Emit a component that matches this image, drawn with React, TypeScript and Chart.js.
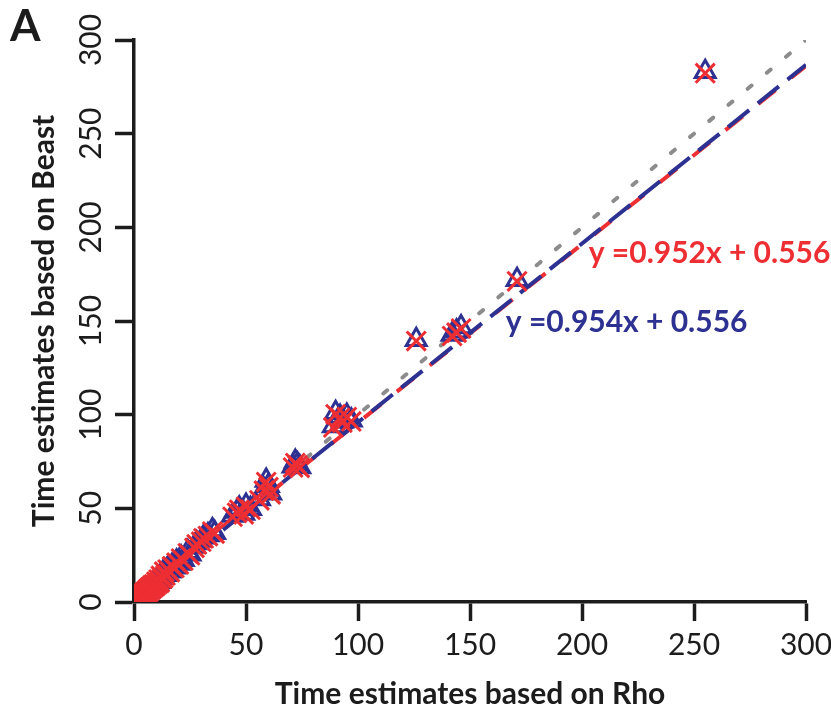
import React, { useEffect, useRef } from "react";
import { Chart, registerables } from "chart.js";

Chart.register(...registerables);

// ---- data ----
const rhoTimes = [
  0.8, 1.2, 1.5, 2, 2.2, 2.5, 3, 3.3, 3.5, 4, 4.2, 4.5, 5, 5.3, 5.5, 6, 6.2, 6.5, 7, 7.2,
  7.5, 8, 8.3, 8.5, 9, 9.5, 10, 10.5, 11, 11.5, 12, 12.5, 13, 13.5, 14, 15, 16, 17, 18, 19,
  20, 21, 22, 24, 25, 27, 28, 30, 31, 33, 35, 36, 44, 46, 47, 49, 50, 52, 56, 58,
  59, 60, 61, 71, 72, 73, 74, 89, 90, 92, 93, 95, 97, 126, 142, 144, 146, 171, 255,
];
const beastTriangle = [
  0.5, 1.4, 1.2, 2.5, 1.9, 1.8, 3.5, 3.0, 2.8, 4.2, 4.6, 3.6, 5.5, 5.9, 4.8, 6.3, 7.0, 5.7, 7.6, 8.1,
  6.8, 8.5, 9.2, 7.9, 9.8, 8.9, 11.2, 9.9, 12.5, 10.8, 14.5, 12.9, 13.2, 16.8, 14.6, 17.9, 16.4, 19.5, 18.6, 21.8,
  20.5, 23.9, 22.6, 26.8, 25.5, 29.6, 31.5, 32.8, 34.6, 35.8, 38.4, 37.0, 46.2, 48.3, 50.0, 47.2, 51.5, 49.8, 55.0, 60.0,
  64.8, 62.0, 58.0, 72.5, 75.0, 73.5, 72.0, 94.0, 101.0, 99.0, 96.5, 99.5, 97.0, 140.0, 142.8, 144.5, 146.8, 172.0, 283.0,
];
const beastCross = [
  0.3, 1.2, 1.0, 2.3, 1.7, 1.6, 3.2, 2.8, 2.6, 4.0, 4.4, 3.4, 5.2, 5.6, 4.6, 6.0, 6.7, 5.5, 7.3, 7.8,
  6.6, 8.2, 8.9, 7.7, 9.4, 8.6, 10.8, 9.6, 12.0, 10.5, 13.9, 12.5, 12.8, 16.2, 14.2, 17.3, 16.0, 19.0, 18.2, 21.0,
  20.1, 23.2, 22.1, 26.0, 25.0, 28.9, 30.8, 32.2, 34.0, 35.2, 37.6, 36.5, 45.5, 47.6, 49.2, 46.8, 50.8, 49.3, 54.3, 59.4,
  64.0, 61.3, 57.5, 71.8, 74.2, 72.9, 71.6, 93.2, 100.2, 98.3, 95.8, 98.7, 96.4, 139.3, 142.0, 143.8, 146.0, 171.2, 282.3,
];
const axisTicks = [0, 50, 100, 150, 200, 250, 300];
const fitSlopes = [0.952, 0.954]; // red, blue
const fitIntercepts = [0.556, 0.556];
const fitLabels = ["y =0.952x + 0.556", "y =0.954x + 0.556"];
const identityLine = [0, 300];

const RED = "#ED2E33";
const BLUE = "#2D3191";
const GRAY = "#8C8C8C";
const INK = "#1c1c1c";
const FONT = "Lato";

export default function App() {
  const ref = useRef<HTMLCanvasElement | null>(null);

  useEffect(() => {
    document.body.style.margin = "0";
    const canvas = ref.current;
    if (!canvas) return;

    const xMin = axisTicks[0];
    const xMax = axisTicks[axisTicks.length - 1];
    const fitLine = (i: number) => [
      { x: xMin, y: fitSlopes[i] * xMin + fitIntercepts[i] },
      { x: xMax, y: fitSlopes[i] * xMax + fitIntercepts[i] },
    ];

    const labelAnchors = [
      { x: 203, y: 186, color: RED },
      { x: 166, y: 149.5, color: BLUE },
    ];

    const overlay = {
      id: "overlay",
      afterDraw(chart: any) {
        const { ctx, scales } = chart;
        const xs = scales.x;
        const ys = scales.y;
        ctx.save();
        // rotated y tick labels
        ctx.fillStyle = INK;
        ctx.font = `30px ${FONT}`;
        ctx.textAlign = "center";
        ctx.textBaseline = "middle";
        for (const v of axisTicks) {
          const py = ys.getPixelForValue(v);
          ctx.save();
          ctx.translate(91, py);
          ctx.rotate(-Math.PI / 2);
          ctx.fillText(String(v), 0, 0);
          ctx.restore();
        }
        // panel letter
        ctx.font = `bold 44px ${FONT}`;
        ctx.textAlign = "left";
        ctx.textBaseline = "alphabetic";
        ctx.fillText("A", 10, 41);
        // equations
        ctx.font = `bold 30px ${FONT}`;
        ctx.textBaseline = "middle";
        labelAnchors.forEach((a, i) => {
          ctx.fillStyle = a.color;
          ctx.fillText(fitLabels[i], xs.getPixelForValue(a.x), ys.getPixelForValue(a.y));
        });
        ctx.restore();
      },
    };

    const chart = new Chart(canvas, {
      type: "scatter",
      data: {
        datasets: [
          {
            label: "cross",
            data: rhoTimes.map((x, i) => ({ x, y: beastCross[i] })),
            pointStyle: "crossRot",
            pointRadius: 13.5,
            borderColor: RED,
            backgroundColor: RED,
            pointBorderWidth: 3,
            order: 1,
          },
          {
            label: "triangle",
            data: rhoTimes.map((x, i) => ({ x, y: beastTriangle[i] })),
            pointStyle: "triangle",
            pointRadius: 11.5,
            borderColor: BLUE,
            backgroundColor: "rgba(0,0,0,0)",
            pointBorderWidth: 3,
            order: 2,
          },
          {
            label: "blue fit",
            data: fitLine(1),
            showLine: true,
            pointRadius: 0,
            borderColor: BLUE,
            borderWidth: 4,
            borderDash: [27, 11],
            borderCapStyle: "butt",
            order: 3,
          },
          {
            label: "red fit",
            data: fitLine(0),
            showLine: true,
            pointRadius: 0,
            borderColor: RED,
            borderWidth: 4,
            borderDash: [22, 20],
            borderCapStyle: "butt",
            order: 4,
          },
          {
            label: "identity",
            data: identityLine.map((v) => ({ x: v, y: v })),
            showLine: true,
            pointRadius: 0,
            borderColor: GRAY,
            borderWidth: 4,
            borderDash: [5, 20],
            borderCapStyle: "round",
            order: 5,
          },
        ],
      },
      options: {
        responsive: false,
        animation: false,
        events: [],
        layout: { padding: { top: 40, right: 25, left: 0, bottom: 0 } },
        plugins: { legend: { display: false }, tooltip: { enabled: false } },
        scales: {
          x: {
            type: "linear",
            min: xMin,
            max: xMax,
            afterFit: (s: any) => {
              s.height = 107;
              s.paddingLeft = 0;
              s.paddingRight = 0;
            },
            afterBuildTicks: (s: any) => {
              s.ticks = axisTicks.map((v) => ({ value: v }));
            },
            grid: {
              drawOnChartArea: false,
              drawTicks: true,
              tickLength: 19,
              tickWidth: 3.5,
              tickColor: INK,
            },
            border: { display: true, width: 3.5, color: INK },
            ticks: {
              color: INK,
              font: { family: FONT, size: 30 },
              padding: 6,
              maxRotation: 0,
              autoSkip: false,
            },
            title: {
              display: true,
              text: "Time estimates based on Rho",
              color: INK,
              font: { family: FONT, size: 30, weight: "bold", lineHeight: 1 },
              padding: { top: 0, bottom: 0 },
            },
          },
          y: {
            type: "linear",
            min: xMin,
            max: xMax,
            afterFit: (s: any) => {
              s.width = 134;
              s.paddingTop = 0;
              s.paddingBottom = 0;
            },
            afterBuildTicks: (s: any) => {
              s.ticks = axisTicks.map((v) => ({ value: v }));
            },
            grid: {
              drawOnChartArea: false,
              drawTicks: true,
              tickLength: 19,
              tickWidth: 3.5,
              tickColor: INK,
            },
            border: { display: true, width: 3.5, color: INK },
            ticks: { display: false },
            title: {
              display: true,
              text: "Time estimates based on Beast",
              color: INK,
              font: { family: FONT, size: 30, weight: "bold", lineHeight: 1 },
              padding: { top: 29, bottom: 0 },
            },
          },
        },
      },
      plugins: [overlay],
    } as any);

    return () => chart.destroy();
  }, []);

  return (
    <div style={{ width: 831, height: 709 }}>
      <canvas ref={ref} width={831} height={709} />
    </div>
  );
}
